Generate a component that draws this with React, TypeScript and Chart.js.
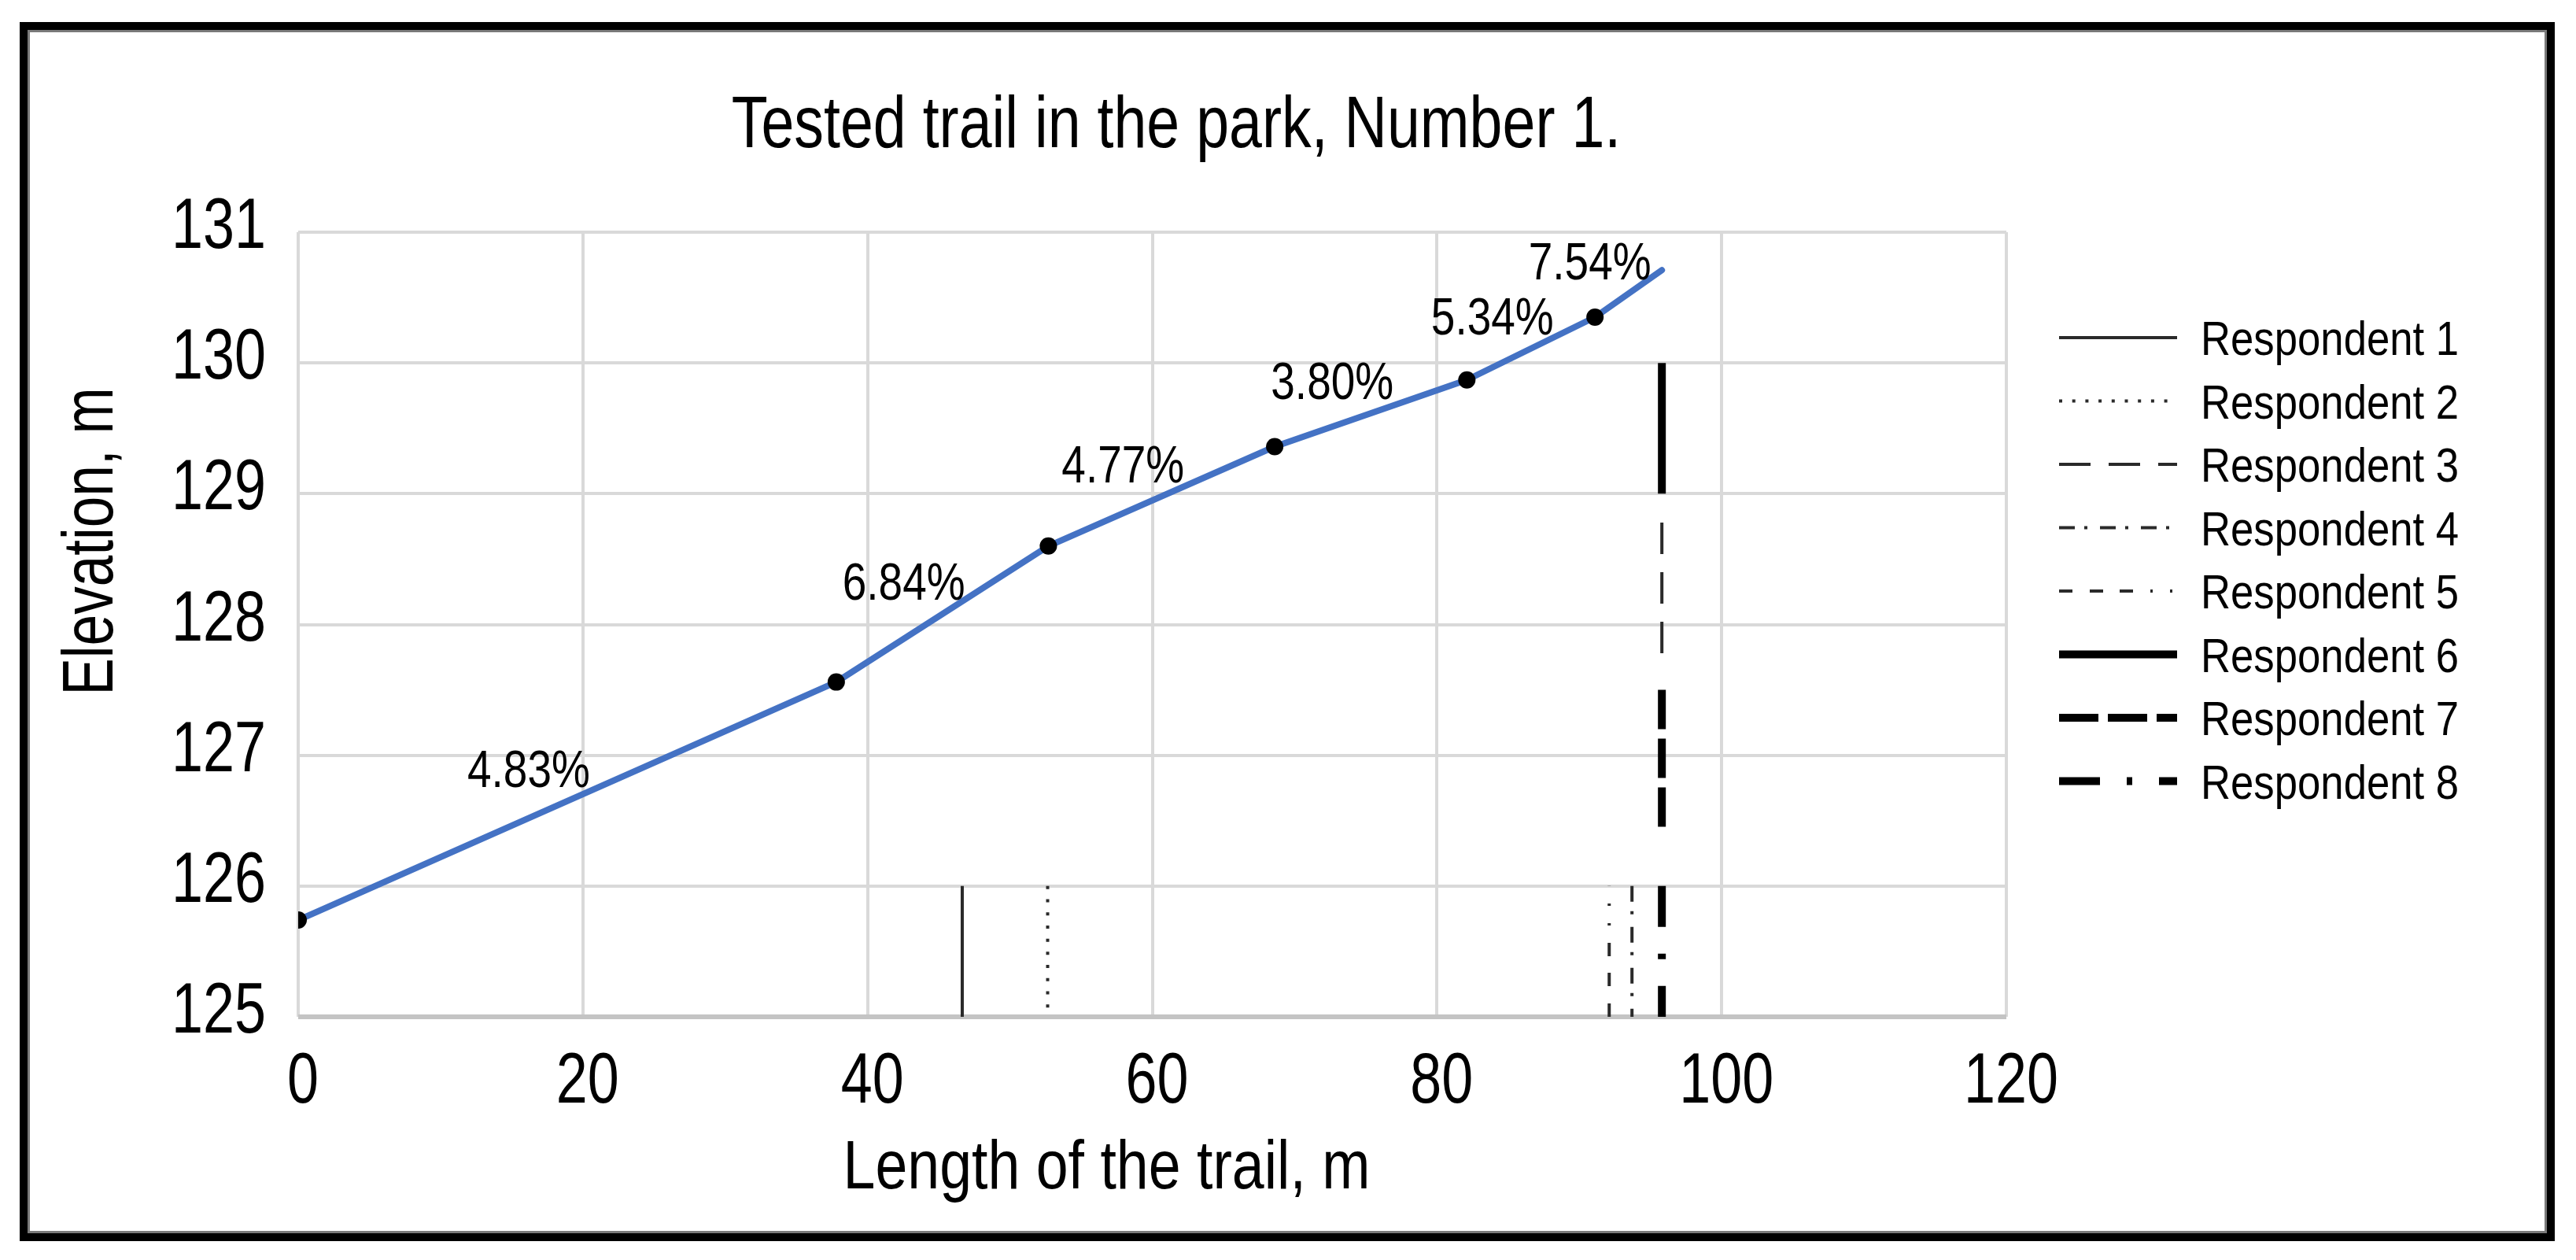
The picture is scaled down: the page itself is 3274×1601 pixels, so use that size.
import React, { useEffect, useRef } from 'react';
import { Chart, registerables } from 'chart.js';

Chart.register(...registerables);

// ---- Data ----
const trailX = [0, 37.8, 52.7, 68.6, 82.1, 91.1, 95.8];
const trailY = [125.74, 127.56, 128.6, 129.36, 129.87, 130.35, 130.71];
const slopeLabels = ['4.83%', '6.84%', '4.77%', '3.80%', '5.34%', '7.54%'];

const respondentNames = [
  'Respondent 1', 'Respondent 2', 'Respondent 3', 'Respondent 4',
  'Respondent 5', 'Respondent 6', 'Respondent 7', 'Respondent 8',
];
const respondentX = [46.65, 52.65, 95.8, 93.7, 92.1, 95.8, 95.8, 95.8];
const respondentYStart = [125, 126, 128.78, 126, 125, 130, 127.5, 126];
const respondentYEnd = [126, 125, 127.76, 125, 126, 129, 126.45, 125];

const xTicks = [0, 20, 40, 60, 80, 100, 120];
const yTicks = [125, 126, 127, 128, 129, 130, 131];

const chartTitle = 'Tested trail in the park, Number 1.';
const xTitle = 'Length of the trail, m';
const yTitle = 'Elevation, m';

// ---- Styles ----
const respondentWidth = [4, 4, 4, 4, 4, 10, 10, 10];
const respondentDash: number[][] = [
  [],
  [4, 12.7],
  [40, 23],
  [20, 12, 4, 16],
  [17, 22, 17, 21, 17, 22, 3, 22, 3, 22],
  [],
  [50, 12],
  [52, 34, 7, 34],
];
const FONT = '"Liberation Sans", Arial, sans-serif';

function drawText(
  ctx: CanvasRenderingContext2D, text: string, x: number, y: number,
  size: number, align: CanvasTextAlign, sx: number, rotate = 0,
) {
  ctx.save();
  ctx.translate(x, y);
  if (rotate) ctx.rotate(rotate);
  ctx.scale(sx, 1);
  ctx.font = `${size}px ${FONT}`;
  ctx.textAlign = align;
  ctx.textBaseline = 'alphabetic';
  ctx.fillStyle = '#000';
  ctx.fillText(text, 0, 0);
  ctx.restore();
}

const decorPlugin = {
  id: 'decor',
  afterDraw(chart: any) {
    const ctx: CanvasRenderingContext2D = chart.ctx;
    const xs = chart.scales.x;
    const ys = chart.scales.y;
    const area = chart.chartArea;

    // tick labels
    yTicks.forEach((v) => drawText(ctx, String(v), area.left - 41, ys.getPixelForValue(v) + 20, 91, 'right', 0.79));
    xTicks.forEach((v) => drawText(ctx, String(v), xs.getPixelForValue(v) + 6, area.bottom + 109, 91, 'center', 0.79));

    // titles
    drawText(ctx, chartTitle, 1495, 187, 93, 'center', 0.81);
    drawText(ctx, xTitle, (area.left + area.right) / 2 - 58, area.bottom + 218, 88, 'center', 0.835);
    drawText(ctx, yTitle, 143, 688, 90, 'center', 0.79, -Math.PI / 2);

    // slope labels at segment midpoints
    slopeLabels.forEach((lab, i) => {
      const mx = (xs.getPixelForValue(trailX[i]) + xs.getPixelForValue(trailX[i + 1])) / 2;
      const my = (ys.getPixelForValue(trailY[i]) + ys.getPixelForValue(trailY[i + 1])) / 2;
      drawText(ctx, lab, mx - 49, my - 18, 67, 'center', 0.82);
    });

    // legend
    const lx0 = 2617, lx1 = 2767, tx = 2797, ly0 = 429, step = 80.5;
    respondentNames.forEach((name, i) => {
      const y = ly0 + i * step;
      ctx.save();
      ctx.strokeStyle = i < 5 ? '#2a2a2a' : '#000';
      ctx.lineWidth = respondentWidth[i];
      ctx.setLineDash(respondentDash[i]);
      ctx.lineCap = 'butt';
      ctx.beginPath();
      ctx.moveTo(lx0, y);
      ctx.lineTo(lx1, y);
      ctx.stroke();
      ctx.restore();
      drawText(ctx, name, tx, y + 22, 62, 'left', 0.85);
    });

    // outer frame
    ctx.save();
    ctx.strokeStyle = '#000';
    ctx.lineWidth = 10;
    ctx.strokeRect(30, 33, 3212, 1539);
    ctx.strokeStyle = '#7a7a7a';
    ctx.lineWidth = 3;
    ctx.strokeRect(36.5, 39.5, 3199, 1526);
    ctx.restore();
  },
};

export default function App() {
  const ref = useRef<HTMLCanvasElement | null>(null);

  useEffect(() => {
    document.body.style.margin = '0';
    document.body.style.overflow = 'hidden';
    const canvas = ref.current;
    if (!canvas) return;

    const datasets: any[] = [
      {
        label: 'Trail',
        data: trailX.map((x, i) => ({ x, y: trailY[i] })),
        showLine: true,
        borderColor: '#4472C4',
        borderWidth: 8,
        borderCapStyle: 'round',
        borderJoinStyle: 'round',
        pointRadius: (c: any) => (c.dataIndex < trailX.length - 1 ? 11 : 0),
        pointBackgroundColor: '#000',
        pointBorderWidth: 0,
        tension: 0,
      },
      ...respondentNames.map((name, i) => ({
        label: name,
        data: [
          { x: respondentX[i], y: respondentYStart[i] },
          { x: respondentX[i], y: respondentYEnd[i] },
        ],
        showLine: true,
        borderColor: i < 5 ? '#2a2a2a' : '#000',
        borderWidth: respondentWidth[i],
        borderDash: respondentDash[i],
        borderCapStyle: 'butt',
        pointRadius: 0,
      })),
    ];

    const chart = new Chart(canvas, {
      type: 'scatter',
      data: { datasets },
      options: {
        responsive: false,
        animation: false,
        events: [],
        layout: { padding: { left: 379, top: 295, right: 724, bottom: 309 } },
        plugins: {
          legend: { display: false },
          title: { display: false },
          tooltip: { enabled: false },
        },
        scales: {
          x: {
            type: 'linear',
            min: 0,
            max: 120,
            afterBuildTicks: (s: any) => { s.ticks = xTicks.map((v) => ({ value: v })); },
            ticks: { display: false },
            border: { display: false },
            grid: { color: '#d9d9d9', lineWidth: 4, drawTicks: false },
          },
          y: {
            type: 'linear',
            min: 125,
            max: 131,
            afterBuildTicks: (s: any) => { s.ticks = yTicks.map((v) => ({ value: v })); },
            ticks: { display: false },
            border: { display: false },
            grid: {
              color: (c: any) => (c.tick && c.tick.value === 125 ? '#c4c4c4' : '#d9d9d9'),
              lineWidth: (c: any) => (c.tick && c.tick.value === 125 ? 6 : 4),
              drawTicks: false,
            },
          },
        },
      } as any,
      plugins: [decorPlugin],
    });

    return () => chart.destroy();
  }, []);

  return (
    <div style={{ position: 'fixed', left: 0, top: 0, width: 3274, height: 1601, background: '#fff' }}>
      <canvas ref={ref} width={3274} height={1601} style={{ display: 'block', width: 3274, height: 1601 }} />
    </div>
  );
}
